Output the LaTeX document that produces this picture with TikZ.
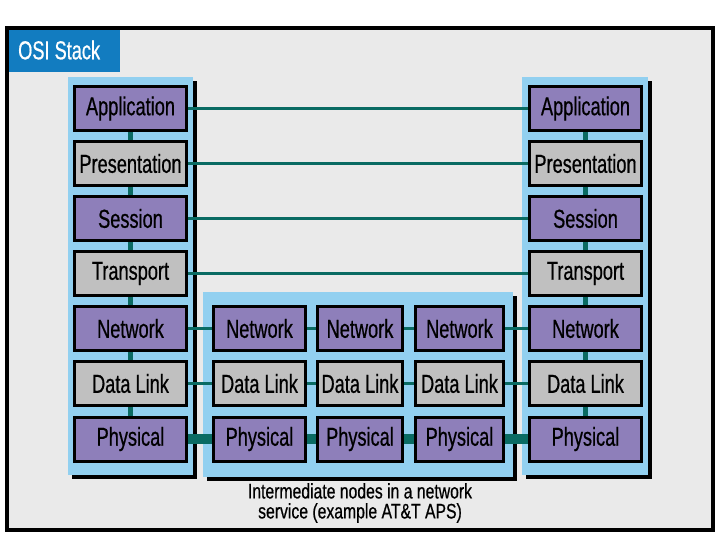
\documentclass[tikz,border=0pt]{standalone}
\usepackage{fontspec}
\setmainfont{Liberation Sans}[FakeStretch=0.78]
\newfontfamily\condfont{Liberation Sans}[FakeStretch=0.7, FakeBold=0.6]
\newfontfamily\capfam{Liberation Sans}[FakeStretch=0.75, FakeBold=0.6]
\definecolor{bgc}{HTML}{EAEAEA}
\definecolor{purp}{HTML}{8E7FBA}
\definecolor{greyb}{HTML}{C0C0C0}
\definecolor{panelblue}{HTML}{92D0F0}
\definecolor{teal}{HTML}{0A6B63}
\definecolor{titleblue}{HTML}{127CC0}
\pgfdeclarelayer{back}
\pgfdeclarelayer{mid}
\pgfsetlayers{back,mid,main}
\newcommand{\boxfont}{\condfont\fontsize{26}{28}\selectfont}
\newcommand{\capfont}{\capfam\fontsize{21}{20}\selectfont}
\tikzset{
  layerbox/.style={draw=black, line width=3pt, minimum height=44pt, inner sep=0pt, font=\boxfont, text=black},
  pbox/.style={layerbox, fill=purp},
  gbox/.style={layerbox, fill=greyb},
  sidebox/.style={minimum width=112pt},
  vlink/.style={draw=teal, line width=5pt},
  hlink/.style={draw=teal, line width=3.2pt},
  thicklink/.style={draw=teal, line width=10pt},
}
\begin{document}
\begin{tikzpicture}[x=1pt,y=-1pt]
\useasboundingbox (0,0) rectangle (720,540);
\begin{pgfonlayer}{back}
\fill[white] (0,0) rectangle (720,540);
\fill[bgc] (7,28) rectangle (713,530);
% panels with shadows
\fill[black] (72,81) rectangle (197,479);
\fill[panelblue] (68,77) rectangle (193,475);
\fill[black] (526,81) rectangle (652,479);
\fill[panelblue] (522,77) rectangle (648,475);
\fill[black] (207,296) rectangle (517,481);
\fill[panelblue] (203,292) rectangle (513,477);
\end{pgfonlayer}
% title
\node (title) [fill=titleblue, minimum width=111pt, minimum height=42pt, inner sep=0pt, anchor=north west] at (9,30) {};
\node (titletext) [anchor=west, text=white, font=\boxfont, inner sep=0pt] at (18,50) {OSI Stack};
% left stack
\node (L1) [pbox, sidebox] at (130.5,108.5) {Application};
\node (L2) [gbox, sidebox] at (130.5,163.5) {Presentation};
\node (L3) [pbox, sidebox] at (130.5,218.5) {Session};
\node (L4) [gbox, sidebox] at (130.5,273.5) {Transport};
\node (L5) [pbox, sidebox] at (130.5,328.5) {Network};
\node (L6) [gbox, sidebox] at (130.5,383.5) {Data Link};
\node (L7) [pbox, sidebox] at (130.5,439) {Physical};
% right stack
\node (R1) [pbox, sidebox] at (585.5,108.5) {Application};
\node (R2) [gbox, sidebox] at (585.5,163.5) {Presentation};
\node (R3) [pbox, sidebox] at (585.5,218.5) {Session};
\node (R4) [gbox, sidebox] at (585.5,273.5) {Transport};
\node (R5) [pbox, sidebox] at (585.5,328.5) {Network};
\node (R6) [gbox, sidebox] at (585.5,383.5) {Data Link};
\node (R7) [pbox, sidebox] at (585.5,439) {Physical};
% intermediate nodes
\node (A5) [pbox, minimum width=92pt] at (259.5,328.5) {Network};
\node (A6) [gbox, minimum width=92pt] at (259.5,383.5) {Data Link};
\node (A7) [pbox, minimum width=92pt] at (259.5,439) {Physical};
\node (B5) [pbox, minimum width=85pt] at (360,328.5) {Network};
\node (B6) [gbox, minimum width=85pt] at (360,383.5) {Data Link};
\node (B7) [pbox, minimum width=85pt] at (360,439) {Physical};
\node (C5) [pbox, minimum width=88pt] at (459.5,328.5) {Network};
\node (C6) [gbox, minimum width=88pt] at (459.5,383.5) {Data Link};
\node (C7) [pbox, minimum width=88pt] at (459.5,439) {Physical};
% connectors
\begin{pgfonlayer}{mid}
\foreach \s in {L,R}{
  \draw[vlink] (\s1.center) -- (\s2.center);
  \draw[vlink] (\s2.center) -- (\s3.center);
  \draw[vlink] (\s3.center) -- (\s4.center);
  \draw[vlink] (\s4.center) -- (\s5.center);
  \draw[vlink] (\s5.center) -- (\s6.center);
  \draw[vlink] (\s6.center) -- (\s7.center);
}
\foreach \r in {1,2,3,4}{
  \draw[hlink] (L\r.center) -- (R\r.center);
}
\foreach \r in {5,6}{
  \draw[hlink] (L\r.center) -- (A\r.center);
  \draw[hlink] (A\r.center) -- (B\r.center);
  \draw[hlink] (B\r.center) -- (C\r.center);
  \draw[hlink] (C\r.center) -- (R\r.center);
}
\draw[thicklink] (L7.center) -- (A7.center);
\draw[thicklink] (A7.center) -- (B7.center);
\draw[thicklink] (B7.center) -- (C7.center);
\draw[thicklink] (C7.center) -- (R7.center);
\end{pgfonlayer}
% caption
\node (cap) [font=\capfont, align=center, inner sep=0pt] at (360,503) {Intermediate nodes in a network\\service (example AT\&T APS)};
% frame
\draw[line width=4pt] (7,28) rectangle (713,530);
\end{tikzpicture}
\end{document}
